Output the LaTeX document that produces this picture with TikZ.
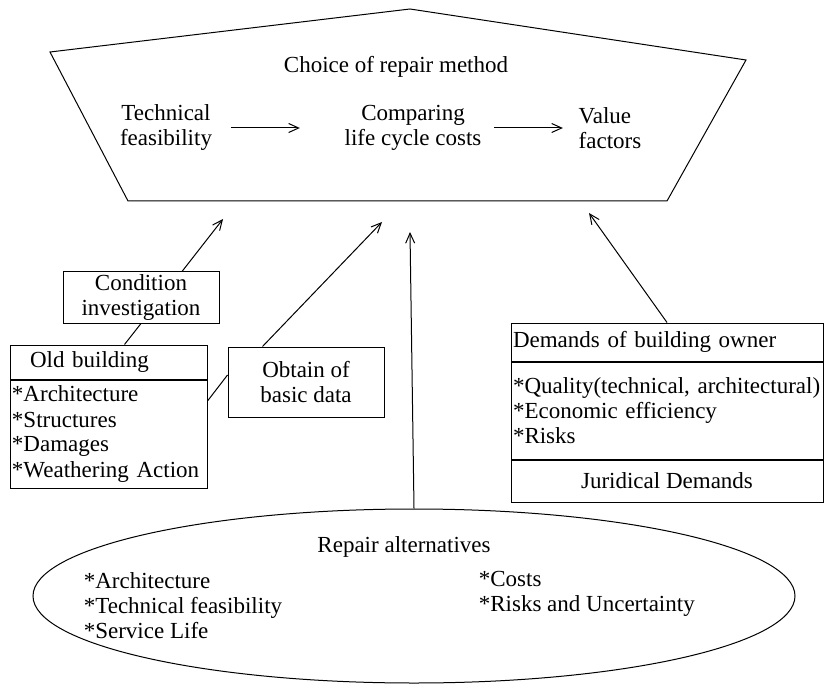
\documentclass[tikz,border=0pt]{standalone}
\usepackage{fontspec}
\setmainfont{Liberation Serif}
\usetikzlibrary{arrows.meta,positioning,shapes.geometric}

\tikzset{
  every node/.style={font=\fontsize{23}{25}\selectfont, align=center},
  box/.style={draw, shape=rectangle, inner sep=2pt},
  listbox/.style={box, align=left, anchor=north},
  flow/.style={-{Straight Barb[length=10pt,width=9pt]}}
}

\begin{document}
\begin{tikzpicture}[x=1pt, y=-1pt, line width=1pt]
  \useasboundingbox (0,0) rectangle (826,684);
  % choice of repair method
  \draw (50,52) -- (410,9) -- (746,60) -- (667,201) -- (128,201) -- cycle;
  \node (choice) at (396,67) {Choice of repair method};
  \node (tech) at (166,128) {Technical\\feasibility};
  \node (lcc) at (413,128) {Comparing\\life cycle costs};
  \node[align=left] (value) at (610,128) {Value\\factors};
  \draw[flow, shorten <=15pt, shorten >=41pt] (tech) -- (lcc);
  \draw[flow, shorten <=9pt, shorten >=12pt] (lcc) -- (value);
  \coordinate (in1) at (223,219);
  \coordinate (in2) at (382,222);
  \coordinate (in3) at (410,232);
  \coordinate (in4) at (589,213);

  % old building
  \node[box, minimum width=156, minimum height=51] (cond) at (141,297.5) {Condition\\investigation};
  \node[box, align=left, text width=193, minimum height=34] (oldt) at (108.5,362) {\hspace*{18pt}Old building};
  \node[listbox, text width=193, minimum height=108, below=0pt of oldt] (oldl)
    {{*}Architecture\\{*}Structures\\{*}Damages\\{*}Weathering Action};
  \node[box, minimum width=156, minimum height=70] (obtain) at (306,382) {Obtain of\\basic data};
  \draw (cond.south) -- ([xshift=16pt]oldt.north);
  \draw ([yshift=33pt]oldl.east) -- ([yshift=7pt]obtain.west);
  \draw[flow] ([xshift=41pt]cond.north) -- (in1);
  \draw[flow] ([xshift=35pt]obtain.north west) -- (in2);

  % building owner
  \node[box, align=left, text width=308, minimum height=38] (demt) at (667,342) {Demands of building owner};
  \node[listbox, text width=308, minimum height=97, below=0pt of demt] (deml)
    {{*}Quality(technical, architectural)\\{*}Economic efficiency\\{*}Risks};
  \node[box, minimum width=312, minimum height=42, below=0pt of deml] (jur) {Juridical Demands};
  \draw[flow] (demt.north) -- (in4);

  % repair alternatives
  \node[draw, ellipse, minimum width=762, minimum height=174] (alt) at (414,596) {};
  \node (altt) at (404,547) {Repair alternatives};
  \node[align=left, anchor=west] (altl) at (80,606) {{*}Architecture\\{*}Technical feasibility\\{*}Service Life};
  \node[align=left, anchor=west] (altr) at (475,594) {{*}Costs\\{*}Risks and Uncertainty};
  \draw[flow] (alt.north) -- (in3);
\end{tikzpicture}
\end{document}
